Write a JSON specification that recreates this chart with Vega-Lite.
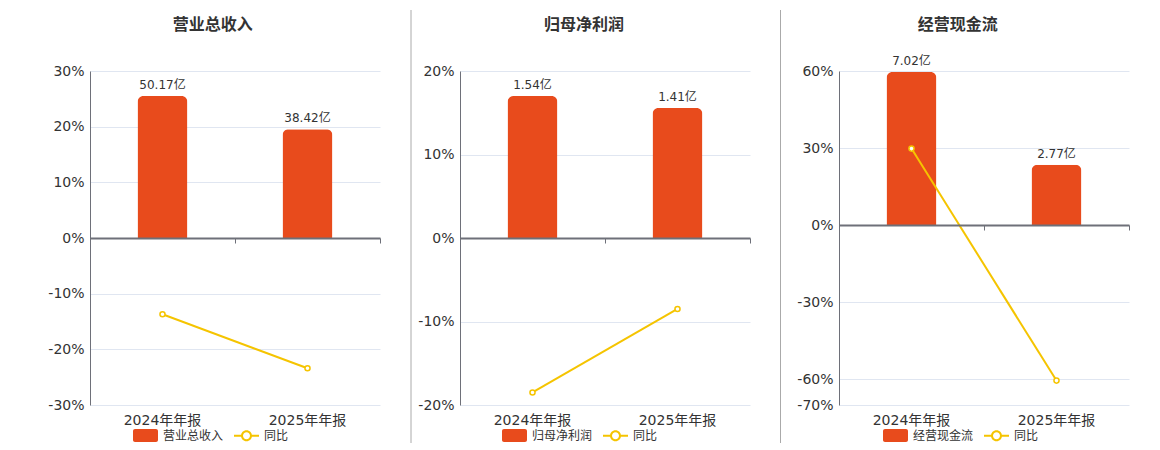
{
  "$schema": "https://vega.github.io/schema/vega-lite/v6.json",
  "description": "three panels: annual value bars with YoY line",
  "padding": {"left": 45, "top": 9, "right": 5, "bottom": 0},
  "config": {
    "font": "DejaVu Sans, Noto Sans CJK SC",
    "view": {"stroke": null},
    "concat": {"spacing": 5},
    "axis": {"labelColor": "#333333", "labelFontSize": 14, "titleColor": "#333333"},
    "legend": {"labelColor": "#333333", "labelFontSize": 12}
  },
  "datasets": {
    "revenue": [
      {"period": "2024年年报", "amount": 50.17, "yoy": -13.7},
      {"period": "2025年年报", "amount": 38.42, "yoy": -23.4}
    ],
    "profit": [
      {"period": "2024年年报", "amount": 1.54, "yoy": -18.5},
      {"period": "2025年年报", "amount": 1.41, "yoy": -8.5}
    ],
    "cash": [
      {"period": "2024年年报", "amount": 7.02, "yoy": 29.8},
      {"period": "2025年年报", "amount": 2.77, "yoy": -60.5}
    ]
  },
  "hconcat": [
    {
      "title": {"text": "营业总收入", "frame": "bounds", "fontSize": 16, "fontWeight": "bold", "color": "#333333", "offset": 31.5},
      "width": 290,
      "height": 334,
      "data": {"name": "revenue"},
      "transform": [{"calculate": "format(datum.amount, '.2f') + '亿'", "as": "label"}],
      "layer": [
        {
          "mark": {"type": "bar", "width": 50, "cornerRadiusTopLeft": 6, "cornerRadiusTopRight": 6},
          "encoding": {
            "x": {"field": "period", "type": "nominal", "sort": null, "scale": {"paddingInner": 0, "paddingOuter": 0},
                  "axis": {"title": null, "domain": false, "ticks": false, "grid": false, "labelAngle": 0, "labelPadding": 8}},
            "y": {"field": "amount", "type": "quantitative", "scale": {"domain": [-59.02, 59.02]}, "axis": null},
            "color": {"datum": "营业总收入", "type": "nominal",
                      "scale": {"domain": ["营业总收入", "同比"], "range": ["#E84B1C", "#F5C400"]},
                      "legend": {"orient": "none", "legendX": 43, "legendY": 352, "direction": "horizontal", "title": null, "symbolSize": 625, "symbolStrokeWidth": 0, "columnPadding": 10, "labelOffset": 5,
                                 "encode": {"symbols": {"update": {
                                   "shape": {"signal": "datum.value === '同比' ? 'M-1,-0.08H-0.43V0.08H-1ZM0.43,-0.08H1V0.08H0.43ZM-0.44,0A0.44,0.44,0,1,1,0.44,0A0.44,0.44,0,1,1,-0.44,0ZM-0.28,0A0.28,0.28,0,1,0,0.28,0A0.28,0.28,0,1,0,-0.28,0Z' : 'M-0.84,-0.52H0.84A0.16,0.16,0,0,1,1,-0.36V0.36A0.16,0.16,0,0,1,0.84,0.52H-0.84A0.16,0.16,0,0,1,-1,0.36V-0.36A0.16,0.16,0,0,1,-0.84,-0.52Z'"},
                                   "strokeWidth": {"value": 0},
                                   "opacity": {"value": 1}
                                 }}}}}
          }
        },
        {
          "mark": {"type": "text", "dy": -11, "fontSize": 12, "color": "#333333"},
          "encoding": {
            "x": {"field": "period", "type": "nominal", "sort": null, "axis": null},
            "y": {"field": "amount", "type": "quantitative", "scale": {"domain": [-59.02, 59.02]}, "axis": null},
            "text": {"field": "label"}
          }
        },
        {
          "mark": {"type": "line", "strokeWidth": 2},
          "encoding": {
            "x": {"field": "period", "type": "nominal", "sort": null,
                  "axis": {"orient": "bottom", "offset": -167, "labels": false, "title": null, "grid": false, "domain": true, "domainColor": "#6E7079", "domainWidth": 2,
                           "ticks": true, "tickColor": "#6E7079", "tickSize": 5, "tickBand": "extent", "zindex": 1}},
            "y": {"field": "yoy", "type": "quantitative", "scale": {"domain": [-30, 30]},
                  "axis": {"orient": "left", "values": [-30, -20, -10, 0, 10, 20, 30], "labelExpr": "datum.value + '%'", "title": null,
                           "grid": true, "gridColor": "#E0E6F1", "domain": true, "domainColor": "#6E7079", "ticks": false, "labelPadding": 6, "minExtent": 45}},
            "color": {"datum": "同比", "type": "nominal"}
          }
        },
        {
          "mark": {"type": "point", "filled": false, "fill": "#ffffff", "stroke": "#F5C400", "strokeWidth": 1.5, "size": 26, "opacity": 1},
          "encoding": {
            "x": {"field": "period", "type": "nominal", "sort": null, "axis": null},
            "y": {"field": "yoy", "type": "quantitative", "scale": {"domain": [-30, 30]}, "axis": null}
          }
        }
      ],
      "resolve": {"scale": {"y": "independent"}, "axis": {"x": "independent", "y": "independent"}}
    },
    {
      "width": 25,
      "height": 334,
      "data": {"values": [{}]},
      "mark": {"type": "rule", "color": "#AAAAAA", "strokeWidth": 1, "clip": false},
      "encoding": {
        "x": {"datum": 1, "type": "quantitative", "scale": {"domain": [0, 1]}, "axis": null},
        "y": {"datum": 1.1826, "type": "quantitative", "scale": {"domain": [0, 1]}, "axis": null},
        "y2": {"datum": -0.1138}
      }
    },
    {
      "title": {"text": "归母净利润", "frame": "bounds", "fontSize": 16, "fontWeight": "bold", "color": "#333333", "offset": 31.5},
      "width": 290,
      "height": 334,
      "data": {"name": "profit"},
      "transform": [{"calculate": "format(datum.amount, '.2f') + '亿'", "as": "label"}],
      "layer": [
        {
          "mark": {"type": "bar", "width": 50, "cornerRadiusTopLeft": 6, "cornerRadiusTopRight": 6},
          "encoding": {
            "x": {"field": "period", "type": "nominal", "sort": null, "scale": {"paddingInner": 0, "paddingOuter": 0},
                  "axis": {"title": null, "domain": false, "ticks": false, "grid": false, "labelAngle": 0, "labelPadding": 8}},
            "y": {"field": "amount", "type": "quantitative", "scale": {"domain": [-1.812, 1.812]}, "axis": null},
            "color": {"datum": "归母净利润", "type": "nominal",
                      "scale": {"domain": ["归母净利润", "同比"], "range": ["#E84B1C", "#F5C400"]},
                      "legend": {"orient": "none", "legendX": 42, "legendY": 352, "direction": "horizontal", "title": null, "symbolSize": 625, "symbolStrokeWidth": 0, "columnPadding": 10, "labelOffset": 5,
                                 "encode": {"symbols": {"update": {
                                   "shape": {"signal": "datum.value === '同比' ? 'M-1,-0.08H-0.43V0.08H-1ZM0.43,-0.08H1V0.08H0.43ZM-0.44,0A0.44,0.44,0,1,1,0.44,0A0.44,0.44,0,1,1,-0.44,0ZM-0.28,0A0.28,0.28,0,1,0,0.28,0A0.28,0.28,0,1,0,-0.28,0Z' : 'M-0.84,-0.52H0.84A0.16,0.16,0,0,1,1,-0.36V0.36A0.16,0.16,0,0,1,0.84,0.52H-0.84A0.16,0.16,0,0,1,-1,0.36V-0.36A0.16,0.16,0,0,1,-0.84,-0.52Z'"},
                                   "strokeWidth": {"value": 0},
                                   "opacity": {"value": 1}
                                 }}}}}
          }
        },
        {
          "mark": {"type": "text", "dy": -11, "fontSize": 12, "color": "#333333"},
          "encoding": {
            "x": {"field": "period", "type": "nominal", "sort": null, "axis": null},
            "y": {"field": "amount", "type": "quantitative", "scale": {"domain": [-1.812, 1.812]}, "axis": null},
            "text": {"field": "label"}
          }
        },
        {
          "mark": {"type": "line", "strokeWidth": 2},
          "encoding": {
            "x": {"field": "period", "type": "nominal", "sort": null,
                  "axis": {"orient": "bottom", "offset": -167, "labels": false, "title": null, "grid": false, "domain": true, "domainColor": "#6E7079", "domainWidth": 2,
                           "ticks": true, "tickColor": "#6E7079", "tickSize": 5, "tickBand": "extent", "zindex": 1}},
            "y": {"field": "yoy", "type": "quantitative", "scale": {"domain": [-20, 20]},
                  "axis": {"orient": "left", "values": [-20, -10, 0, 10, 20], "labelExpr": "datum.value + '%'", "title": null,
                           "grid": true, "gridColor": "#E0E6F1", "domain": true, "domainColor": "#6E7079", "ticks": false, "labelPadding": 6, "minExtent": 42.5}},
            "color": {"datum": "同比", "type": "nominal"}
          }
        },
        {
          "mark": {"type": "point", "filled": false, "fill": "#ffffff", "stroke": "#F5C400", "strokeWidth": 1.5, "size": 26, "opacity": 1},
          "encoding": {
            "x": {"field": "period", "type": "nominal", "sort": null, "axis": null},
            "y": {"field": "yoy", "type": "quantitative", "scale": {"domain": [-20, 20]}, "axis": null}
          }
        }
      ],
      "resolve": {"scale": {"y": "independent"}, "axis": {"x": "independent", "y": "independent"}}
    },
    {
      "width": 24.5,
      "height": 334,
      "data": {"values": [{}]},
      "mark": {"type": "rule", "color": "#AAAAAA", "strokeWidth": 1, "clip": false},
      "encoding": {
        "x": {"datum": 1, "type": "quantitative", "scale": {"domain": [0, 1]}, "axis": null},
        "y": {"datum": 1.1826, "type": "quantitative", "scale": {"domain": [0, 1]}, "axis": null},
        "y2": {"datum": -0.1138}
      }
    },
    {
      "title": {"text": "经营现金流", "frame": "bounds", "fontSize": 16, "fontWeight": "bold", "color": "#333333", "offset": 22.5},
      "width": 290,
      "height": 334,
      "data": {"name": "cash"},
      "transform": [{"calculate": "format(datum.amount, '.2f') + '亿'", "as": "label"}],
      "layer": [
        {
          "mark": {"type": "bar", "width": 50, "cornerRadiusTopLeft": 6, "cornerRadiusTopRight": 6},
          "encoding": {
            "x": {"field": "period", "type": "nominal", "sort": null, "scale": {"paddingInner": 0, "paddingOuter": 0},
                  "axis": {"title": null, "domain": false, "ticks": false, "grid": false, "labelAngle": 0, "labelPadding": 8}},
            "y": {"field": "amount", "type": "quantitative", "scale": {"domain": [-8.248, 7.07]}, "axis": null},
            "color": {"datum": "经营现金流", "type": "nominal",
                      "scale": {"domain": ["经营现金流", "同比"], "range": ["#E84B1C", "#F5C400"]},
                      "legend": {"orient": "none", "legendX": 44, "legendY": 352, "direction": "horizontal", "title": null, "symbolSize": 625, "symbolStrokeWidth": 0, "columnPadding": 10, "labelOffset": 5,
                                 "encode": {"symbols": {"update": {
                                   "shape": {"signal": "datum.value === '同比' ? 'M-1,-0.08H-0.43V0.08H-1ZM0.43,-0.08H1V0.08H0.43ZM-0.44,0A0.44,0.44,0,1,1,0.44,0A0.44,0.44,0,1,1,-0.44,0ZM-0.28,0A0.28,0.28,0,1,0,0.28,0A0.28,0.28,0,1,0,-0.28,0Z' : 'M-0.84,-0.52H0.84A0.16,0.16,0,0,1,1,-0.36V0.36A0.16,0.16,0,0,1,0.84,0.52H-0.84A0.16,0.16,0,0,1,-1,0.36V-0.36A0.16,0.16,0,0,1,-0.84,-0.52Z'"},
                                   "strokeWidth": {"value": 0},
                                   "opacity": {"value": 1}
                                 }}}}}
          }
        },
        {
          "mark": {"type": "text", "dy": -11, "fontSize": 12, "color": "#333333"},
          "encoding": {
            "x": {"field": "period", "type": "nominal", "sort": null, "axis": null},
            "y": {"field": "amount", "type": "quantitative", "scale": {"domain": [-8.248, 7.07]}, "axis": null},
            "text": {"field": "label"}
          }
        },
        {
          "mark": {"type": "line", "strokeWidth": 2},
          "encoding": {
            "x": {"field": "period", "type": "nominal", "sort": null,
                  "axis": {"orient": "bottom", "offset": -180, "labels": false, "title": null, "grid": false, "domain": true, "domainColor": "#6E7079", "domainWidth": 2,
                           "ticks": true, "tickColor": "#6E7079", "tickSize": 5, "tickBand": "extent", "zindex": 1}},
            "y": {"field": "yoy", "type": "quantitative", "scale": {"domain": [-70, 60]},
                  "axis": {"orient": "left", "values": [-70, -60, -30, 0, 30, 60], "labelExpr": "datum.value + '%'", "title": null,
                           "grid": true, "gridColor": "#E0E6F1", "domain": true, "domainColor": "#6E7079", "ticks": false, "labelPadding": 6, "minExtent": 53}},
            "color": {"datum": "同比", "type": "nominal"}
          }
        },
        {
          "mark": {"type": "point", "filled": false, "fill": "#ffffff", "stroke": "#F5C400", "strokeWidth": 1.5, "size": 26, "opacity": 1},
          "encoding": {
            "x": {"field": "period", "type": "nominal", "sort": null, "axis": null},
            "y": {"field": "yoy", "type": "quantitative", "scale": {"domain": [-70, 60]}, "axis": null}
          }
        }
      ],
      "resolve": {"scale": {"y": "independent"}, "axis": {"x": "independent", "y": "independent"}}
    }
  ],
  "resolve": {"scale": {"color": "independent", "x": "independent", "y": "independent"}, "legend": {"color": "independent"}}
}
